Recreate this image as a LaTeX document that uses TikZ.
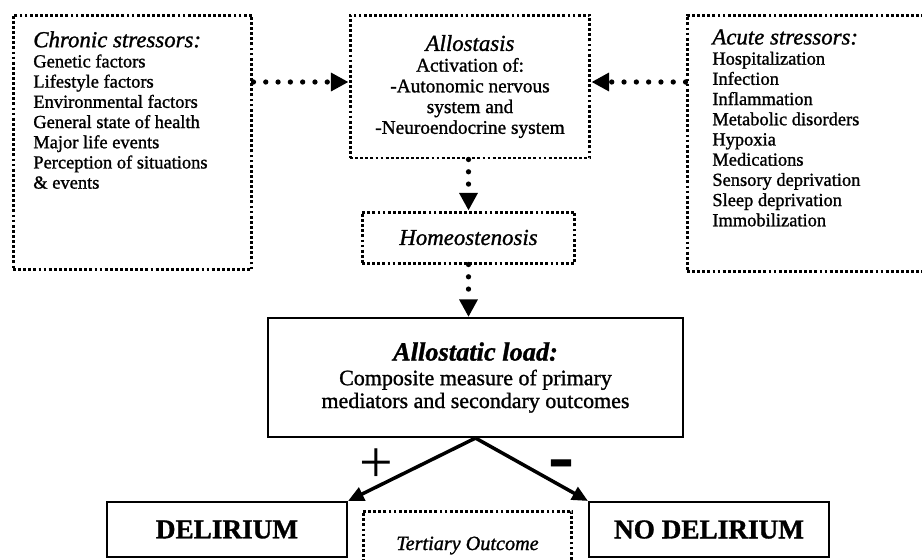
\documentclass[tikz,border=0pt]{standalone}
\usepackage{fontspec}
\setmainfont{Liberation Serif}[FakeBold=1.2]
\newfontfamily\plainserif{Liberation Serif}
\usetikzlibrary{arrows.meta}
\newcommand{\boxtitle}{\fontsize{13}{13}\selectfont\itshape}
\tikzset{
  dotbox/.style={draw, line width=1.7pt, dash pattern=on 1.6pt off 1.3pt, inner sep=0pt},
  solidbox/.style={draw, line width=1.2pt, inner sep=0pt},
  dotarrow/.style={line width=3pt, line cap=round, dash pattern=on 0pt off 7pt,
    -{Triangle[length=10pt,width=10pt]}},
  boldarrow/.style={line width=2pt, -{Triangle[length=9pt,width=8pt]}},
  listtext/.style={align=left, inner sep=0pt, font=\fontsize{10.5}{11.5}\selectfont},
}
\begin{document}
\begin{tikzpicture}[x=0.02cm, y=-0.02cm]
\useasboundingbox (0,0) rectangle (922,559);
\clip (0,0) rectangle (922,559);

% stressors
\node[dotbox, minimum width=4.78cm, minimum height=5.1cm] (chronic) at (132.5,142.5) {};
\node[listtext, anchor=north west] (chronictext) at (33,31) {{\boxtitle Chronic stressors:}\\
  Genetic factors\\ Lifestyle factors\\ Environmental factors\\ General state of health\\
  Major life events\\ Perception of situations\\ \& events};

\node[dotbox, minimum width=5cm, minimum height=5.14cm] (acute) at (812,143.5) {};
\node[listtext, anchor=north west] (acutetext) at (712,29) {{\boxtitle Acute stressors:}\\
  Hospitalization\\ Infection\\ Inflammation\\ Metabolic disorders\\ Hypoxia\\
  Medications\\ Sensory deprivation\\ Sleep deprivation\\ Immobilization};

\node[dotbox, minimum width=4.8cm, minimum height=2.86cm, align=center,
  font=\fontsize{11}{11.8}\selectfont] (allostasis) at (470,86.5)
  {{\boxtitle Allostasis}\\ Activation of:\\ -Autonomic nervous\\ system and\\ -Neuroendocrine system};

\coordinate (arrowlevel) at (0,82);
\draw[dotarrow] (chronic.east |- arrowlevel) -- (allostasis.west |- arrowlevel);
\draw[dotarrow] (acute.west |- arrowlevel) -- (allostasis.east |- arrowlevel);

% homeostenosis and load
\node[dotbox, minimum width=4.26cm, minimum height=1.02cm, font=\boxtitle] (homeo) at (468.5,237.5) {Homeostenosis};
\draw[dotarrow] (allostasis.south -| homeo) -- (homeo.north);

\node[solidbox, minimum width=8.3cm, minimum height=2.38cm, align=center,
  font=\fontsize{12.5}{13}\selectfont] (load) at (475.5,377.5)
  {{\fontsize{15}{15}\selectfont\bfseries\itshape Allostatic load:}\\[1pt]
   Composite measure of primary\\ mediators and secondary outcomes};
\draw[dotarrow] (homeo.south) -- (homeo.south |- load.north);

% outcomes
\node[solidbox, minimum width=4.8cm, minimum height=1.1cm, font=\fontsize{15.5}{15.5}\selectfont\bfseries] (delirium) at (227,529.5) {DELIRIUM};
\node[solidbox, minimum width=4.8cm, minimum height=1.1cm, font=\fontsize{15.5}{15.5}\selectfont\bfseries] (nodelirium) at (709,529.5) {NO DELIRIUM};
\node[dotbox, minimum width=4.18cm, minimum height=1.38cm, font=\fontsize{11.5}{11.5}\selectfont\itshape] (tertiary) at (467.5,545.5) {Tertiary Outcome};

\draw[boldarrow] (load.south) -- (delirium.north east);
\draw[boldarrow] (load.south) -- (nodelirium.north west);
\node[font=\plainserif\fontsize{34}{34}\selectfont] (plus) at (376,466) {+};
\node[font=\fontsize{42}{42}\selectfont\bfseries] (minus) at (561,470) {-};
\end{tikzpicture}
\end{document}
